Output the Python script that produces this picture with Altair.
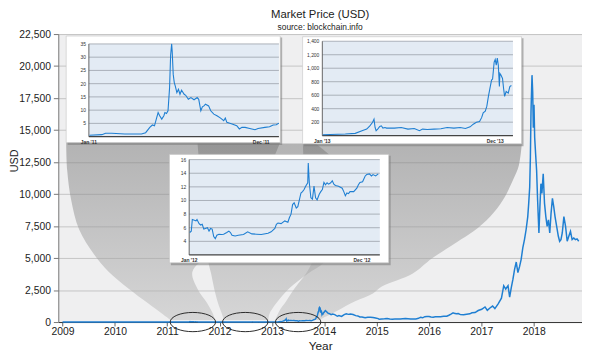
import altair as alt
import pandas as pd

FONT = "Liberation Sans"
BLUE = "#1f7fd2"

# ---------------- values ----------------
# main series, 2009-2010 (decimal year, USD)
EARLY_YEAR = [2009.0, 2009.5, 2010.0, 2010.55, 2010.7, 2010.85, 2010.95]
EARLY_USD = [0.0, 0.0, 0.0, 0.06, 0.07, 0.2, 0.3]

# 2011 inset (day of year, USD)
DAY_2011 = [1, 25, 32, 44, 69, 101, 109, 117, 122, 126, 130, 133, 136, 140, 144, 146, 149, 152, 155, 157,
            159, 160, 162, 164, 166, 169, 172, 175, 178, 183, 186, 191, 196, 202, 208, 211, 215, 218, 221, 224,
            230, 234, 240, 246, 253, 259, 262, 265, 275, 284, 289, 294, 300, 309, 319, 325, 338, 347, 354, 360, 365]
USD_2011 = [0.5, 0.75, 1.25, 1.25, 1.0, 1.0, 1.5, 3.5, 4.4, 4.1, 7.0, 9.1, 7.9, 6.6, 7.9, 9.1, 8.75, 9.75, 18.5, 30.75,
            35.0, 32.2, 23.5, 20.4, 19.1, 16.6, 17.9, 16.0, 17.5, 16.0, 15.6, 14.1, 14.75, 13.9, 14.75, 14.1, 9.75, 11.25, 11.6, 12.25,
            11.6, 9.75, 8.5, 7.9, 7.0, 6.0, 7.0, 5.4, 4.75, 4.1, 2.9, 3.5, 3.5, 3.1, 2.6, 3.1, 3.5, 3.75, 4.4, 4.5, 5.1]

# 2012 inset
DAY_2012 = [1, 4, 6, 10, 13, 15, 19, 22, 25, 28, 31, 35, 38, 41, 44, 47, 50, 53, 57, 62,
            66, 72, 76, 79, 82, 88, 94, 104, 112, 120, 129, 138, 151, 157, 164, 167, 170, 176, 183, 189,
            192, 195, 198, 201, 205, 208, 211, 214, 217, 220, 223, 227, 228, 230, 233, 236, 239, 242, 245, 249,
            252, 255, 258, 261, 264, 267, 271, 274, 277, 280, 286, 293, 296, 299, 302, 305, 308, 315, 321, 324,
            327, 332, 337, 340, 345, 349, 352, 357, 362]
USD_2012 = [5.3, 5.5, 7.2, 7.1, 7.0, 7.2, 6.6, 6.4, 6.5, 5.8, 5.9, 6.0, 5.5, 5.9, 5.8, 4.7, 4.4, 4.9, 5.05, 5.0,
            5.05, 5.3, 5.5, 5.3, 4.9, 4.8, 4.9, 5.0, 5.4, 5.1, 5.05, 5.0, 5.2, 5.4, 5.9, 6.5, 6.7, 6.6, 7.0, 6.8,
            7.5, 8.0, 9.4, 9.65, 8.9, 9.1, 10.1, 11.1, 11.3, 11.6, 12.1, 12.6, 15.5, 12.6, 10.4, 10.2, 12.1, 10.4, 10.1, 10.9,
            11.3, 11.6, 12.65, 12.3, 12.6, 12.4, 12.6, 12.9, 12.4, 12.2, 12.1, 11.8, 11.3, 10.7, 11.1, 11.0, 11.3, 11.3, 11.8, 12.3,
            12.65, 12.75, 13.6, 13.8, 13.9, 13.6, 13.8, 13.6, 13.9]

# 2013 inset
DAY_2013 = [1, 44, 63, 76, 85, 91, 96, 99, 101, 103, 106, 110, 113, 116, 120, 123, 138, 151, 164, 176,
            186, 192, 201, 214, 227, 239, 252, 264, 274, 283, 289, 295, 301, 305, 308, 312, 315, 318, 321, 324,
            326, 329, 331, 333, 335, 337, 339, 340, 342, 345, 347, 349, 352, 356, 359, 362]
USD_2013 = [13, 24, 34, 73, 97, 146, 194, 243, 121, 73, 97, 136, 146, 112, 121, 112, 112, 121, 97, 107,
            73, 97, 92, 97, 102, 121, 112, 121, 107, 131, 170, 199, 209, 267, 340, 364, 437, 582, 704, 825,
            840, 1092, 1131, 1044, 1150, 1040, 728, 922, 898, 849, 704, 582, 655, 631, 728, 743]

# main series, 2014-2016
MID_YEAR = [2014.02, 2014.04, 2014.07, 2014.10, 2014.13, 2014.16, 2014.20, 2014.25, 2014.28, 2014.33, 2014.38, 2014.42,
            2014.46, 2014.50, 2014.55, 2014.60, 2014.64, 2014.68, 2014.72, 2014.78, 2014.83, 2014.88, 2014.93, 2014.98,
            2015.03, 2015.05, 2015.10, 2015.15, 2015.20, 2015.25, 2015.30, 2015.35, 2015.40, 2015.45, 2015.50, 2015.55,
            2015.60, 2015.65, 2015.70, 2015.75, 2015.80, 2015.84, 2015.88, 2015.92, 2015.96,
            2016.00, 2016.04, 2016.08, 2016.12, 2016.17, 2016.22, 2016.28, 2016.34, 2016.38, 2016.42, 2016.46, 2016.48,
            2016.52, 2016.56, 2016.60, 2016.66, 2016.72, 2016.78, 2016.82, 2016.88, 2016.94, 2016.98]
MID_USD = [900, 820, 700, 650, 580, 620, 580, 450, 500, 440, 580, 640, 600, 630, 590, 500, 480, 400, 390, 330, 370, 380, 350, 320,
           270, 210, 230, 250, 280, 240, 225, 235, 230, 240, 265, 285, 260, 230, 235, 245, 290, 380, 330, 420, 440,
           430, 400, 380, 420, 410, 420, 450, 450, 530, 620, 720, 680, 650, 660, 580, 575, 610, 640, 720, 740, 900, 960]

# main series, 2017-2018
LATE_YEAR = [2017.007, 2017.07, 2017.114, 2017.164, 2017.215, 2017.259, 2017.321, 2017.384, 2017.428, 2017.466,
             2017.51, 2017.541, 2017.573, 2017.604, 2017.635, 2017.667, 2017.698, 2017.73, 2017.761, 2017.792,
             2017.824, 2017.855, 2017.887, 2017.905, 2017.924, 2017.937, 2017.949, 2017.968,
             2017.981, 2017.993, 2018.006, 2018.019, 2018.037, 2018.056, 2018.075, 2018.1, 2018.119, 2018.138,
             2018.157, 2018.182, 2018.207, 2018.232, 2018.257, 2018.282, 2018.307, 2018.332, 2018.358, 2018.383,
             2018.408, 2018.439, 2018.471, 2018.496, 2018.521, 2018.546, 2018.577, 2018.609, 2018.64, 2018.671,
             2018.703, 2018.734, 2018.766, 2018.797, 2018.828, 2018.86]
LATE_USD = [1000, 1180, 920, 1100, 1250, 1050, 1420, 1860, 2840, 2580, 2840, 1940, 2710, 3350, 4120, 4690, 3870, 4330,
            4900, 5800, 6440, 7210, 8240, 9270, 10550, 12860, 16460, 19290,
            18000, 15180, 16980, 14410, 13130, 11840, 9530, 6960, 9010, 10810, 10040, 11580, 9270, 8240, 7470, 7980,
            6960, 8500, 9660, 9010, 8240, 7470, 6700, 6310, 6440, 6960, 8240, 7470, 6310, 6700, 7090, 6440, 6570,
            6440, 6500, 6310]

# zoom funnels (USD level, left and right edge in years)
F2011_USD = [14023, 11866, 9554, 7243, 5316, 3930, 2620, 1464, 616, 154]
F2011_LEFT = [2009.070, 2009.089, 2009.164, 2009.315, 2009.597, 2009.880, 2010.257, 2010.633, 2010.916, 2011.067]
F2011_RIGHT = [2013.157, 2012.931, 2012.611, 2012.253, 2011.801, 2011.481, 2011.575, 2011.764, 2011.877, 2011.914]

F2012_USD = [13946, 9554, 4777, 3775, 2620, 1464, 616, 154]
F2012_LEFT = [2011.579, 2011.669, 2011.782, 2011.839, 2011.896, 2011.971, 2012.047, 2012.084]
F2012_RIGHT = [2013.836, 2014.778, 2014.024, 2013.685, 2013.327, 2013.082, 2012.950, 2012.932]

F2013_USD = [13946, 12251, 11095, 9554, 8244, 7089, 6241, 4931, 4623, 3775, 2774, 2234, 1618, 848, 154]
F2013_LEFT = [2013.591, 2013.610, 2013.629, 2013.666, 2013.704, 2013.742, 2013.761, 2013.780, 2013.761, 2013.648,
              2013.460, 2013.366, 2013.271, 2013.139, 2013.064]
F2013_RIGHT = [2017.774, 2017.718, 2017.605, 2017.416, 2017.171, 2016.851, 2016.531, 2016.041, 2015.947, 2015.683,
               2015.099, 2014.929, 2014.590, 2014.232, 2013.893]

ELLIPSE_YEAR = [2011.49, 2012.49, 2013.50]
ELLIPSE_USD = [0, 0, 0]

YEAR_TICKS = list(range(2009, 2019))
USD_TICKS = list(range(0, 22501, 2500))
TICKS_2011 = [5, 10, 15, 20, 25, 30, 35]
TICKS_2012 = [4, 6, 8, 10, 12, 14, 16]
TICKS_2013 = [200, 400, 600, 800, 1000, 1200, 1400]
MONTH_DAYS = [0, 331]

# ---------------- layout ----------------
PLOT_LEFT, PLOT_TOP = 59, 32
PLOT_W, PLOT_H = 531, 292
X_DOMAIN = [2008.919, 2018.923]
Y_DOMAIN = [0, 22500]

main_df = pd.DataFrame({
    "year": EARLY_YEAR + [2011 + d / 365 for d in DAY_2011] + [2012 + d / 366 for d in DAY_2012]
            + [2013 + d / 365 for d in DAY_2013] + MID_YEAR + LATE_YEAR,
    "usd": EARLY_USD + USD_2011 + USD_2012 + USD_2013 + MID_USD + LATE_USD,
})


def mx(field, axis=None):
    return alt.X(f"{field}:Q", scale=alt.Scale(domain=X_DOMAIN, nice=False, zero=False), axis=axis)


def my(field, axis=None):
    return alt.Y(f"{field}:Q", scale=alt.Scale(domain=Y_DOMAIN, nice=False, zero=False), axis=axis)


GRAD = alt.Gradient(gradient="linear",
                    stops=[alt.GradientStop(color="#777777", offset=0),
                           alt.GradientStop(color="#bcbcbc", offset=1)],
                    x1=0, x2=0, y1=0, y2=1)


def funnel(usd, left, right):
    df = pd.DataFrame({"usd": usd, "left": left, "right": right})
    return alt.Chart(df).mark_area(orient="horizontal", color=GRAD, opacity=0.5,
                                   interpolate="catmull-rom").encode(
        y=my("usd"), x=mx("left"), x2="right")


x_axis = alt.Axis(values=YEAR_TICKS, format="d", title="Year", orient="bottom", grid=False,
                  labelFont=FONT, labelFontSize=10.5, labelColor="#222", labelPadding=1, labelFlush=False,
                  labelOverlap=False, tickSize=4, tickColor="#666", domainColor="#333", domainWidth=1,
                  titleFont=FONT, titleFontSize=12, titleFontWeight="normal", titleColor="#222",
                  titleY=28, titleBaseline="alphabetic")
y_axis = alt.Axis(values=USD_TICKS, format=",d", title="USD", orient="left", grid=True,
                  gridColor="#c4c4c4", gridWidth=1,
                  labelFont=FONT, labelFontSize=10.5, labelColor="#222", labelPadding=3, labelFlush=False,
                  labelOverlap=False, tickSize=5, tickColor="#777", domainColor="#777",
                  titleFont=FONT, titleFontSize=11, titleFontWeight="normal", titleColor="#222",
                  titleX=-41, titleY=128, titleBaseline="alphabetic", titleAlign="center", titleAngle=270)

main_line = alt.Chart(main_df).mark_line(color=BLUE, strokeWidth=1.5).encode(
    x=mx("year", x_axis), y=my("usd", y_axis))

ELLIPSE_PATH = ("M-1,0C-1,-0.234,-0.552,-0.424,0,-0.424C0.552,-0.424,1,-0.234,1,0"
                "C1,0.234,0.552,0.424,0,0.424C-0.552,0.424,-1,0.234,-1,0Z")
ellipses = alt.Chart(pd.DataFrame({"year": ELLIPSE_YEAR, "usd": ELLIPSE_USD})).mark_point(
    shape=ELLIPSE_PATH, size=2116, filled=False, color="#2a2a2a", strokeWidth=1, opacity=1).encode(
    x=mx("year"), y=my("usd"))


def inset(days, usd, ydom, yticks, yr, px_x, px_y, box):
    """px_x=(left,right), px_y=(bottom,top): page pixels of the inset plot; box=(l,t,r,b) panel."""
    xs = alt.Scale(domain=[0, 365], range=[px_x[0] - PLOT_LEFT, px_x[1] - PLOT_LEFT], nice=False, zero=False)
    ys = alt.Scale(domain=ydom, range=[px_y[0] - PLOT_TOP, px_y[1] - PLOT_TOP], nice=False, zero=False)

    def dx(px):
        return (px - px_x[0]) / (px_x[1] - px_x[0]) * 365

    def dy(py):
        return ydom[0] + (px_y[0] - py) / (px_y[0] - px_y[1]) * (ydom[1] - ydom[0])

    def X(f):
        return alt.X(f"{f}:Q", scale=xs, axis=None)

    def Y(f):
        return alt.Y(f"{f}:Q", scale=ys, axis=None)

    l, t, r, b = box
    shadow = alt.Chart(pd.DataFrame({"x0": [dx(l + 1.5)], "x1": [dx(r + 2)], "y0": [dy(b + 2.5)], "y1": [dy(t + 1.5)]})
                       ).mark_rect(color="#7a7a7a", opacity=0.55).encode(x=X("x0"), x2="x1", y=Y("y0"), y2="y1")
    panel = alt.Chart(pd.DataFrame({"x0": [dx(l)], "x1": [dx(r)], "y0": [dy(b)], "y1": [dy(t)]})
                      ).mark_rect(color="white", stroke="#c4c4c4", strokeWidth=0.6).encode(
        x=X("x0"), x2="x1", y=Y("y0"), y2="y1")
    bg = alt.Chart(pd.DataFrame({"x0": [0], "x1": [365], "y0": [ydom[0]], "y1": [ydom[1]]})
                   ).mark_rect(color="#e3ebf4").encode(x=X("x0"), x2="x1", y=Y("y0"), y2="y1")
    tick_df = pd.DataFrame({"v": yticks, "x0": [0] * len(yticks), "x1": [365] * len(yticks)})
    grid = alt.Chart(tick_df).mark_rule(color="#9aa1a9", strokeWidth=0.8).encode(x=X("x0"), x2="x1", y=Y("v"))
    labels = alt.Chart(tick_df).mark_text(align="right", baseline="middle", dx=-3, fontSize=5,
                                          font=FONT, color="#333").encode(
        x=X("x0"), y=Y("v"), text=alt.Text("v:Q", format=",d"))
    axis_df = pd.DataFrame({"x0": [0], "x1": [365], "y0": [ydom[0]], "y1": [ydom[1]]})
    left_axis = alt.Chart(axis_df).mark_rule(color="#555", strokeWidth=0.9).encode(x=X("x0"), y=Y("y0"), y2="y1")
    bottom_axis = alt.Chart(axis_df).mark_rule(color="#444", strokeWidth=1.3).encode(x=X("x0"), x2="x1", y=Y("y0"))
    month_df = pd.DataFrame({"d": MONTH_DAYS, "y": [ydom[0]] * 2, "lab": [f"Jan '{yr}", f"Dec '{yr}"]})
    months = alt.Chart(month_df).mark_text(baseline="top", dy=3, fontSize=5, fontWeight="bold",
                                           font=FONT, color="#333").encode(x=X("d"), y=Y("y"), text="lab:N")
    line = alt.Chart(pd.DataFrame({"d": days, "v": usd})).mark_line(color=BLUE, strokeWidth=1.1).encode(
        x=X("d"), y=Y("v"))
    return [shadow, panel, bg, grid, left_axis, bottom_axis, labels, months, line]


layers = [funnel(F2011_USD, F2011_LEFT, F2011_RIGHT),
          funnel(F2013_USD, F2013_LEFT, F2013_RIGHT),
          funnel(F2012_USD, F2012_LEFT, F2012_RIGHT),
          main_line, ellipses]
layers += inset(DAY_2011, USD_2011, [0, 35], TICKS_2011, "11", (90, 282.7), (136, 42), (67, 34, 284, 142))
layers += inset(DAY_2013, USD_2013, [0, 1400], TICKS_2013, "13", (326.7, 520), (135, 39.3), (306.7, 34.7, 528.7, 143.3))
layers += inset(DAY_2012, USD_2012, [2, 16], TICKS_2012, "12", (191.7, 385), (256, 159.3), (171.7, 154, 394, 264))

chart = alt.layer(*layers).resolve_scale(x="independent", y="independent").properties(
    width=PLOT_W, height=PLOT_H,
    autosize=alt.AutoSizeParams(type="none"),
    padding={"left": 51, "top": 24, "right": 0, "bottom": 32},
    title=alt.TitleParams("Market Price (USD)", subtitle="source: blockchain.info", anchor="middle",
                          font=FONT, fontSize=11.5, fontWeight="normal", color="#222",
                          subtitleFont=FONT, subtitleFontSize=8.5, subtitleColor="#222",
                          subtitlePadding=2, offset=-2),
).configure_view(fill="#efeff0", stroke=None)

chart.save("out.html", embed_options={"renderer": "svg", "actions": False})
